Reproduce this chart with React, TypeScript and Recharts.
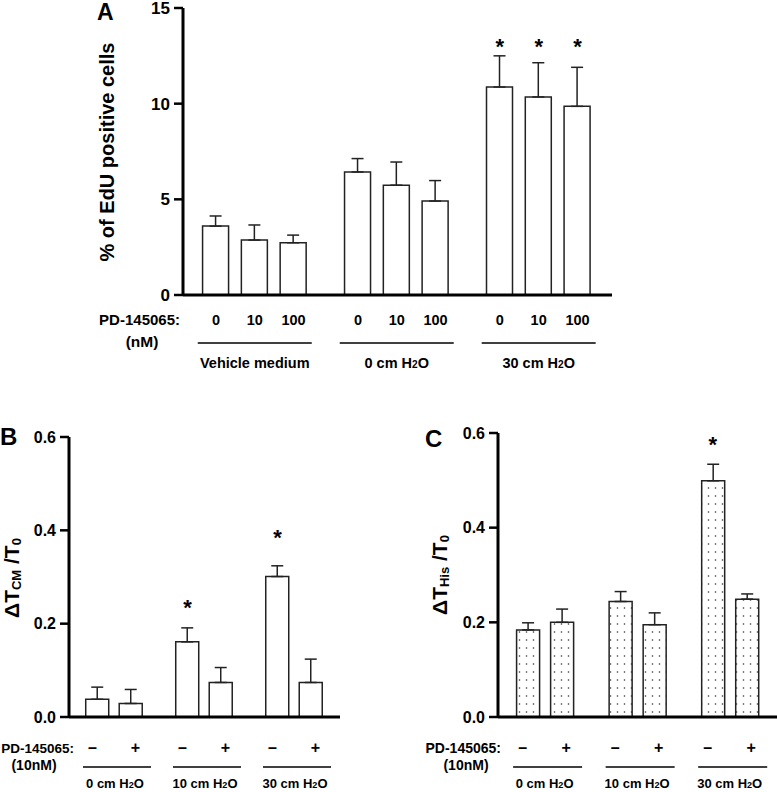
import React from "react";
import { ComposedChart, Bar, ErrorBar, Scatter, XAxis, YAxis } from "recharts";

// panel A: EdU positive cells
const doseLabels = ["0", "10", "100"];
const groupsA = ["Vehicle medium", "0 cm H2O", "30 cm H2O"];
const meanA = [3.6, 2.87, 2.73, 6.43, 5.74, 4.91, 10.87, 10.35, 9.86];
const semA = [0.53, 0.79, 0.4, 0.7, 1.21, 1.07, 1.63, 1.79, 2.04];
const starA = [null, null, null, null, null, null, 13.2, 13.2, 13.2];
const ticksA = [0, 5, 10, 15];

// panels B and C
const pdLabels = ["–", "+"];
const groupsBC = ["0 cm H2O", "10 cm H2O", "30 cm H2O"];
const meanB = [0.038, 0.029, 0.161, 0.074, 0.301, 0.074];
const semB = [0.026, 0.03, 0.03, 0.032, 0.023, 0.05];
const starB = [null, null, 0.245, null, 0.395, null];
const meanC = [0.184, 0.2, 0.244, 0.195, 0.499, 0.249];
const semC = [0.015, 0.028, 0.021, 0.025, 0.035, 0.011];
const starC = [null, null, null, null, 0.585, null];
const ticksBC = [0, 0.2, 0.4, 0.6];

const FONT = "'Liberation Sans', Arial, Helvetica, sans-serif";

// bar slots: one unit per bar, extra gap between groups
const slots = (first: number, groupStep: number, nGroups: number, nPer: number) => {
  const out: number[] = [];
  for (let g = 0; g < nGroups; g++) for (let i = 0; i < nPer; i++) out.push(first + g * groupStep + i);
  return out;
};
const posA = slots(0.85, 3.66, 3, 3);
const posB = slots(0.85, 2.687, 3, 2);
const posC = slots(0.87, 2.72, 3, 2);

const rows = (pos: number[], mean: number[], sem: number[], star: (number | null)[]) =>
  mean.map((m, i) => ({ x: pos[i], mean: m, err: [0, sem[i]], star: star[i] }));

const h2o = (s: string) => {
  const k = s.indexOf("H2O");
  if (k < 0) return s;
  return (
    <>
      {s.slice(0, k + 1)}
      <tspan fontSize="0.7em">2</tspan>
      <tspan>O</tspan>
    </>
  );
};

const Star = (props: any) => {
  const { cx, cy, payload } = props;
  if (!payload || payload.star == null || cx == null || cy == null || isNaN(cy)) return <g />;
  return (
    <text x={cx} y={cy + 12} textAnchor="middle" fontSize={22} fontWeight="bold" fill="#000">
      *
    </text>
  );
};

const TickA = (props: any) => {
  const { x, y, payload } = props;
  const i = posA.indexOf(payload.value);
  if (i < 0) return <g />;
  return (
    <g fontFamily={FONT} fontWeight="bold" fill="#000">
      <text x={x} y={y + 30} textAnchor="middle" fontSize={14.5}>
        {doseLabels[i % 3]}
      </text>
      {i % 3 === 1 && (
        <>
          <line x1={x - 57} x2={x + 57} y1={y + 48} y2={y + 48} stroke="#000" strokeWidth={1.5} />
          <text x={x} y={y + 73} textAnchor="middle" fontSize={14.5}>
            {h2o(groupsA[(i - 1) / 3])}
          </text>
        </>
      )}
    </g>
  );
};

const makeTickBC = (pos: number[], lineL: number, lineR: number, nameDx: number) => (props: any) => {
  const { x, y, payload } = props;
  const i = pos.indexOf(payload.value);
  if (i < 0) return <g />;
  const dx = i % 2 === 0 ? -5 : 4.5;
  return (
    <g fontFamily={FONT} fontWeight="bold" fill="#000">
      <text x={x + dx} y={y + 36} textAnchor="middle" fontSize={16}>
        {pdLabels[i % 2]}
      </text>
      {i % 2 === 0 && (
        <>
          <line x1={x + lineL} x2={x + lineR} y1={y + 50} y2={y + 50} stroke="#000" strokeWidth={1.5} />
          <text x={x + nameDx} y={y + 71} textAnchor="middle" fontSize={13}>
            {h2o(groupsBC[i / 2])}
          </text>
        </>
      )}
    </g>
  );
};

function Panel(p: any) {
  return (
    <div style={{ position: "absolute", left: p.left, top: p.top }}>
      <ComposedChart width={p.width} height={p.height} data={p.data} margin={p.margin}>
        <defs>
          <pattern id="dots" width={7} height={8} patternUnits="userSpaceOnUse">
            <rect width={7} height={8} fill="#fff" />
            <circle cx={3.5} cy={4} r={0.8} fill="#333" />
          </pattern>
        </defs>
        <XAxis
          type="number"
          dataKey="x"
          domain={p.xDomain}
          ticks={p.xTicks}
          interval={0}
          allowDataOverflow
          tickLine={false}
          tickSize={0}
          tickMargin={0}
          height={p.xHeight}
          axisLine={{ stroke: "#000", strokeWidth: 3 }}
          tick={p.tick}
        />
        <YAxis
          type="number"
          domain={p.yDomain}
          ticks={p.yTicks}
          interval={0}
          allowDataOverflow
          width={p.yWidth}
          tickSize={9}
          tickMargin={4}
          tickFormatter={p.yFmt}
          axisLine={{ stroke: "#000", strokeWidth: 3 }}
          tickLine={{ stroke: "#000", strokeWidth: 2.5 }}
          tick={{ fill: "#000", fontSize: p.yFont, fontWeight: "bold", fontFamily: FONT }}
        />
        <Bar dataKey="mean" barSize={p.barSize} fill={p.fill} stroke="#222" strokeWidth={1.5} isAnimationActive={false}>
          <ErrorBar dataKey="err" width={p.capW} stroke="#222" strokeWidth={1.5} isAnimationActive={false} />
        </Bar>
        <Scatter dataKey="star" shape={Star} isAnimationActive={false} />
      </ComposedChart>
    </div>
  );
}

const sub = (t: string) => (
  <tspan fontSize={13} dy={2}>
    {t}
  </tspan>
);

export default function App() {
  const fmt1 = (v: number) => v.toFixed(1);
  return (
    <div
      style={{
        position: "absolute",
        left: 0,
        top: 0,
        width: 777,
        height: 792,
        background: "#fff",
        fontFamily: FONT,
        overflow: "hidden",
      }}
    >
      <Panel
        left={0}
        top={0}
        width={777}
        height={380}
        margin={{ top: 8, right: 165, left: 123, bottom: 5 }}
        yWidth={60}
        xHeight={80}
        data={rows(posA, meanA, semA, starA)}
        xDomain={[0, 11.06]}
        xTicks={posA}
        tick={<TickA />}
        yDomain={[0, 15]}
        yTicks={ticksA}
        yFmt={(v: number) => String(v)}
        yFont={17}
        barSize={26}
        capW={6}
        fill="#fff"
      />
      <Panel
        left={0}
        top={420}
        width={390}
        height={372}
        margin={{ top: 17, right: 50, left: 19, bottom: 5 }}
        yWidth={50}
        xHeight={70}
        data={rows(posB, meanB, semB, starB)}
        xDomain={[0, 8.09]}
        xTicks={posB}
        tick={makeTickBC(posB, -14.5, 53.5, 17.5)}
        yDomain={[0, 0.6]}
        yTicks={ticksBC}
        yFmt={fmt1}
        yFont={16}
        barSize={23}
        capW={6}
        fill="#fff"
      />
      <Panel
        left={390}
        top={420}
        width={387}
        height={372}
        margin={{ top: 13, right: 0, left: 58, bottom: 5 }}
        yWidth={50}
        xHeight={70}
        data={rows(posC, meanC, semC, starC)}
        xDomain={[0, 8.2]}
        xTicks={posC}
        tick={makeTickBC(posC, -14.5, 54.5, 17)}
        yDomain={[0, 0.6]}
        yTicks={ticksBC}
        yFmt={fmt1}
        yFont={16}
        barSize={23}
        capW={6}
        fill="url(#dots)"
      />
      <svg
        width={777}
        height={792}
        style={{ position: "absolute", left: 0, top: 0, pointerEvents: "none" }}
        fontFamily={FONT}
        fontWeight="bold"
        fill="#000"
      >
        <text x={97} y={20} fontSize={23}>A</text>
        <text x={0} y={445} fontSize={24}>B</text>
        <text x={425} y={447} fontSize={24}>C</text>

        <text transform="translate(114,152) rotate(-90)" textAnchor="middle" fontSize={20}>
          % of EdU positive cells
        </text>
        <text transform="translate(19,578) rotate(-90)" textAnchor="middle" fontSize={21}>
          ΔT{sub("CM")}
          <tspan dy={-2}>{" /T"}</tspan>
          {sub("0")}
        </text>
        <text transform="translate(447,575) rotate(-90)" textAnchor="middle" fontSize={21}>
          ΔT{sub("His")}
          <tspan dy={-2}>{" /T"}</tspan>
          {sub("0")}
        </text>

        <text x={180} y={325} textAnchor="end" fontSize={15}>PD-145065:</text>
        <text x={142} y={347} textAnchor="middle" fontSize={15.5}>(nM)</text>
        <text x={74} y={753} textAnchor="end" fontSize={13.5}>PD-145065:</text>
        <text x={34} y={770} textAnchor="middle" fontSize={14}>(10nM)</text>
        <text x={501} y={753} textAnchor="end" fontSize={14}>PD-145065:</text>
        <text x={466} y={770} textAnchor="middle" fontSize={14}>(10nM)</text>
      </svg>
    </div>
  );
}
